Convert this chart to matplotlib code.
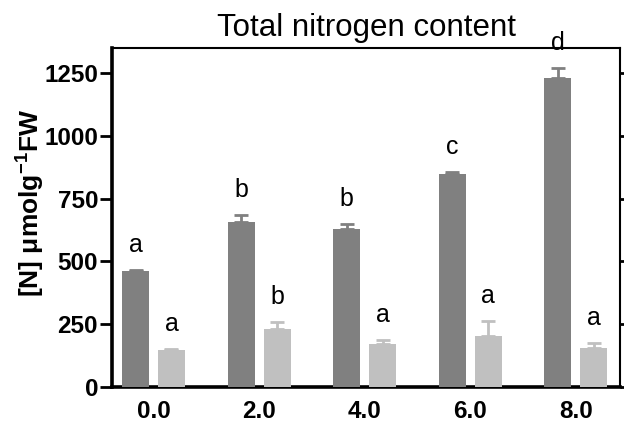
#%%
# Total nitrogen content bar chart
import numpy as np
import matplotlib.pyplot as plt

plt.rcParams['font.family'] = ['Liberation Sans', 'DejaVu Sans']
plt.rcParams['mathtext.fontset'] = 'custom'
plt.rcParams['mathtext.rm'] = 'Liberation Sans'
plt.rcParams['mathtext.bf'] = 'Liberation Sans:bold'

# Data
treatments = ['0.0', '2.0', '4.0', '6.0', '8.0']
dark_values = [463, 658, 628, 848, 1229]
dark_errors = [4, 25, 20, 9, 42]
dark_letters = ['a', 'b', 'b', 'c', 'd']
light_values = [147, 230, 170, 202, 154]
light_errors = [3, 30, 17, 59, 20]
light_letters = ['a', 'b', 'a', 'a', 'a']

fig = plt.figure(figsize=(6.24, 4.23), dpi=100)
ax = fig.add_axes([0.1795, 0.0851, 0.8141, 0.8014])

x = np.arange(len(treatments))
barWidth = 0.256
offset = 0.17

dark_color = '#808080'
light_color = '#c0c0c0'

ax.bar(x - offset, dark_values, barWidth, color=dark_color, zorder=3)
ax.bar(x + offset, light_values, barWidth, color=light_color, zorder=3)

# upper error bars only, same colour as the bars
ax.errorbar(x - offset, dark_values, yerr=[np.zeros(len(x)), dark_errors],
            fmt='none', ecolor=dark_color, elinewidth=2, capsize=5, capthick=2, zorder=2)
ax.errorbar(x + offset, light_values, yerr=[np.zeros(len(x)), light_errors],
            fmt='none', ecolor=light_color, elinewidth=2, capsize=5, capthick=2, zorder=2)

# significance letters
def add_letters(xs, vals, errs, letters):
    for xi, v, e, s in zip(xs, vals, errs, letters):
        ax.annotate(s, xy=(xi, v + e), xytext=(0, 13), textcoords='offset points',
                    ha='center', va='baseline', fontsize=18)

add_letters(x - offset, dark_values, dark_errors, dark_letters)
add_letters(x + offset, light_values, light_errors, light_letters)

ax.set_xlim(-0.393, 4.418)
ax.set_ylim(0, 1350)
ax.set_yticks([0, 250, 500, 750, 1000, 1250])
ax.set_xticks(x)
ax.set_xticklabels(treatments, fontsize=17.5, fontweight='bold')
for lab in ax.get_yticklabels():
    lab.set_fontsize(17.5)
    lab.set_fontweight('bold')

ax.tick_params(axis='x', length=0, pad=9)
ax.tick_params(axis='y', which='both', direction='out', length=9, width=2, pad=1,
               right=True)

ax.spines['left'].set_linewidth(2.6)
ax.spines['bottom'].set_linewidth(2.6)
ax.spines['top'].set_linewidth(1.5)
ax.spines['right'].set_linewidth(1.5)

ax.set_ylabel(r'[N] μmolg$^{\mathbf{-1}}$FW', fontsize=19, fontweight='bold')
ax.yaxis.set_label_coords(-0.13, 0.543)
ax.set_title('Total nitrogen content', fontsize=22.5, pad=9)

plt.savefig('out.png', dpi=100)
